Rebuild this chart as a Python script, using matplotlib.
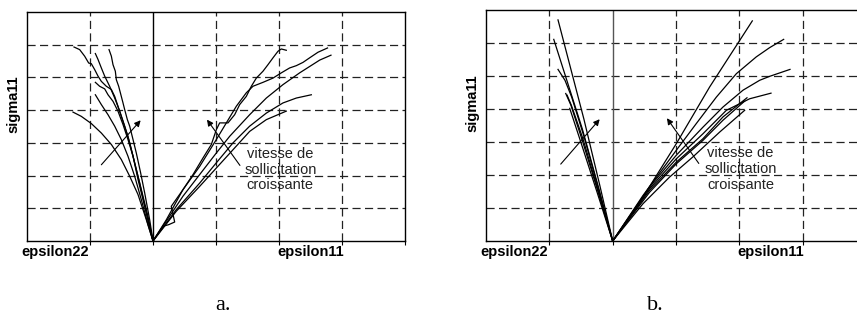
import matplotlib.pyplot as plt

plt.rcParams['font.family'] = ['Liberation Sans', 'DejaVu Sans']

# panel a. - left branch (epsilon22), one (x, y) pair per curve
a_eps22 = [
    ([0, -0.132, -0.238, -0.317, -0.397, -0.476, -0.556, -0.608, -0.661, -0.741,
      -0.820, -0.873, -0.926, -0.979, -1.021, -1.085, -1.164, -1.254],
     [0, 1.06, 1.88, 2.59, 3.20, 3.66, 4.12, 4.42, 4.63, 4.73,
      4.88, 5.04, 5.24, 5.42, 5.44, 5.65, 5.85, 5.93]),
    ([0, -0.079, -0.185, -0.291, -0.370, -0.450, -0.529, -0.608, -0.688, -0.767,
      -0.820, -0.873, -0.915],
     [0, 0.75, 1.57, 2.39, 3.00, 3.51, 3.97, 4.37, 4.73, 5.04, 5.29, 5.55, 5.73]),
    ([0, -0.053, -0.132, -0.196, -0.265, -0.317, -0.370, -0.407, -0.450, -0.476,
      -0.503, -0.545, -0.582, -0.598, -0.635, -0.661, -0.698],
     [0, 0.65, 1.47, 2.08, 2.69, 3.10, 3.51, 3.71, 4.02, 4.22,
      4.42, 4.73, 4.93, 5.19, 5.39, 5.65, 5.85]),
    ([0, -0.106, -0.212, -0.317, -0.397, -0.476, -0.556, -0.635, -0.714, -0.767,
      -0.847, -0.915],
     [0, 0.86, 1.77, 2.59, 3.10, 3.56, 3.97, 4.27, 4.47, 4.65, 4.73, 4.85]),
    ([0, -0.079, -0.185, -0.291, -0.397, -0.503, -0.608, -0.714, -0.820, -0.915],
     [0, 0.50, 1.26, 1.98, 2.59, 3.10, 3.51, 3.86, 4.17, 4.47]),
    ([0, -0.106, -0.238, -0.370, -0.503, -0.661, -0.820, -0.979, -1.138, -1.270],
     [0, 0.65, 1.42, 1.98, 2.49, 2.95, 3.30, 3.59, 3.81, 3.94]),
]

# panel a. - right branch (epsilon11)
a_eps11 = [
    ([0, 0.159, 0.25, 0.344, 0.29, 0.476, 0.635, 0.794, 0.926, 1.005, 1.058, 1.190,
      1.296, 1.376, 1.481, 1.561, 1.640, 1.746, 1.825, 1.905, 1.984, 2.037, 2.116],
     [0, 0.45, 0.50, 0.58, 1.06, 1.57, 2.03, 2.54, 2.95, 3.40, 3.61, 3.61,
      3.86, 4.17, 4.42, 4.73, 4.98, 5.19, 5.39, 5.60, 5.80, 5.87, 5.83]),
    ([0, 0.212, 0.476, 0.741, 1.005, 1.164, 1.323, 1.481, 1.587, 1.746, 1.905,
      2.037, 2.169, 2.275, 2.381, 2.487, 2.619, 2.77],
     [0, 0.65, 1.57, 2.28, 3.10, 3.61, 4.12, 4.53, 4.73, 4.85, 4.98,
      5.14, 5.29, 5.36, 5.46, 5.60, 5.77, 5.90]),
    ([0, 0.476, 1.005, 1.217, 1.534, 1.799, 2.063, 2.328, 2.646, 2.825],
     [0, 1.37, 2.69, 3.20, 3.86, 4.37, 4.78, 5.14, 5.53, 5.68]),
    ([0, 0.370, 0.741, 1.005, 1.270, 1.534, 1.799, 2.063, 2.275, 2.513],
     [0, 0.96, 1.77, 2.39, 3.00, 3.51, 3.91, 4.22, 4.37, 4.47]),
    ([0, 0.370, 0.741, 1.005, 1.270, 1.534, 1.799, 2.116],
     [0, 0.91, 1.67, 2.23, 2.79, 3.35, 3.71, 3.97]),
]

# panel b. - left branch
b_eps22 = [
    ([0, -0.205, -0.455, -0.863], [0, 1.70, 3.70, 6.70]),
    ([0, -0.22, -0.48, -0.93], [0, 1.60, 3.40, 6.11]),
    ([0, -0.22, -0.45, -0.647, -0.753, -0.863], [0, 1.55, 3.15, 4.36, 4.87, 5.20]),
    ([0, -0.24, -0.48, -0.66, -0.741], [0, 1.55, 3.05, 4.12, 4.47]),
    ([0, -0.24, -0.47, -0.65, -0.72], [0, 1.60, 3.10, 4.10, 4.42]),
    ([0, -0.25, -0.50, -0.678], [0, 1.50, 2.98, 4.02]),
]

# panel b. - right branch
b_eps11 = [
    ([0, 0.479, 1.005, 1.532, 2.205], [0, 1.33, 2.95, 4.67, 6.67]),
    ([0, 0.479, 1.005, 1.321, 1.637, 1.953, 2.268, 2.479, 2.70],
     [0, 1.38, 2.75, 3.56, 4.36, 5.07, 5.58, 5.86, 6.11]),
    ([0, 0.584, 1.005, 1.426, 1.742, 2.058, 2.321, 2.479, 2.80],
     [0, 1.64, 2.60, 3.45, 4.06, 4.57, 4.87, 4.99, 5.20]),
    ([0, 0.584, 1.005, 1.426, 1.795, 2.163, 2.50], [0, 1.59, 2.49, 3.25, 3.96, 4.31, 4.48]),
    ([0, 0.584, 1.005, 1.426, 1.742, 2.121], [0, 1.54, 2.39, 3.10, 3.76, 4.34]),
    ([0, 0.584, 1.005, 1.426, 1.742, 2.084], [0, 1.48, 2.34, 3.05, 3.66, 4.24]),
    ([0, 0.479, 0.90, 1.268, 1.689, 2.084], [0, 1.13, 1.94, 2.55, 3.30, 3.96]),
]

# arrows (tail, head) and labels
a_arrows = [((-0.82, 2.33), (-0.196, 3.69)), ((1.38, 2.31), (0.857, 3.71))]
b_arrows = [((-0.82, 2.33), (-0.205, 3.69)), ((1.36, 2.35), (0.857, 3.72))]
note = 'vitesse de\nsollicitation\ncroissante'
xlabels = ['epsilon22', 'epsilon11']
ylabel = 'sigma11'

fig = plt.figure(figsize=(8.57, 3.16), dpi=100)
ax_a = fig.add_axes([27 / 857, 75 / 316, 378 / 857, 229 / 316])
ax_b = fig.add_axes([486 / 857, 75 / 316, 380 / 857, 231 / 316])


def draw_panel(ax, left, right, arrows, zero_color):
    ax.set_xlim(-2, 4)
    ax.set_ylim(0, 7)
    # dashed grid
    for gx in [-1, 1, 2, 3]:
        ax.axvline(gx, color='#222222', lw=0.9, ls=(0, (6.5, 3.5)), zorder=1)
    for gy in range(1, 7):
        ax.axhline(gy, color='#222222', lw=0.9, ls=(0, (6.5, 3.5)), zorder=1)
    ax.axvline(0, color=zero_color, lw=1.0, zorder=1)

    for xs, ys in left + right:
        ax.plot(xs, ys, color='black', lw=0.9, zorder=3)

    for tail, head in arrows:
        ax.annotate('', xy=head, xytext=tail,
                    arrowprops=dict(arrowstyle='-|>', lw=0.8, color='black',
                                    mutation_scale=9, shrinkA=0, shrinkB=0))

    ax.text(2.02, 2.18, note, ha='center', va='center', fontsize=10.5,
            linespacing=1.15, color='#222222', zorder=4)

    ax.text(-1.55, -0.34, xlabels[0], ha='center', va='center',
            fontsize=10.5, fontweight='bold')
    ax.text(2.5, -0.34, xlabels[1], ha='center', va='center',
            fontsize=10.5, fontweight='bold')
    ax.text(-2.22, 4.17, ylabel, ha='center', va='center', rotation=90,
            fontsize=10.5, fontweight='bold')

    ax.set_xticks([-1, 0, 1, 2, 3, 4])
    ax.set_yticks([])
    ax.tick_params(axis='x', direction='out', length=3, width=0.8,
                   labelbottom=False)
    for s in ax.spines.values():
        s.set_linewidth(1.0)
        s.set_color('black')


draw_panel(ax_a, a_eps22, a_eps11, a_arrows, 'black')
draw_panel(ax_b, b_eps22, b_eps11, b_arrows, '#555555')

fig.text(223 / 857, 1 - 305 / 316, 'a.', ha='center', va='center',
         fontsize=16, family='Liberation Serif')
fig.text(655 / 857, 1 - 305 / 316, 'b.', ha='center', va='center',
         fontsize=16, family='Liberation Serif')

fig.savefig('out.png', dpi=100)
